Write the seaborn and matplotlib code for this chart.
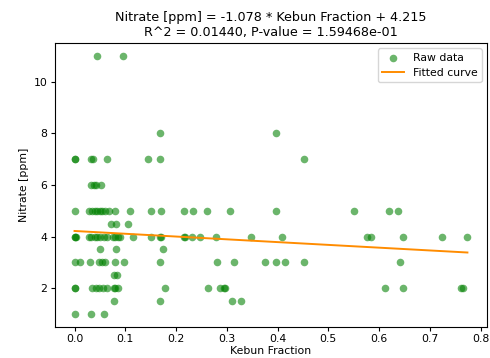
import numpy as np
import pandas as pd
import matplotlib
matplotlib.use("Agg")
import matplotlib.pyplot as plt
import seaborn as sns

# Kebun fraction values, grouped by the nitrate level they were measured at
x_11 = [0.045, 0.096]
x_8 = [0.168, 0.397]
x_7 = [0.0, 0.0, 0.033, 0.037, 0.063, 0.145, 0.169, 0.452]
x_6 = [0.033, 0.038, 0.042, 0.052]
x_5 = [0.0, 0.028, 0.035, 0.040, 0.045, 0.050, 0.055, 0.060, 0.068, 0.080,
       0.11, 0.15, 0.17, 0.215, 0.233, 0.261, 0.307, 0.396, 0.55, 0.619, 0.637]
x_4_5 = [0.071, 0.081, 0.106]
x_4 = [0.0, 0.0, 0.003, 0.028, 0.032, 0.040, 0.045, 0.050, 0.058, 0.063,
       0.075, 0.080, 0.085, 0.090, 0.115, 0.15, 0.168, 0.17, 0.215, 0.218,
       0.232, 0.247, 0.279, 0.348, 0.409, 0.576, 0.584, 0.648, 0.723, 0.774]
x_3_5 = [0.051, 0.081, 0.175]
x_3 = [0.0, 0.01, 0.03, 0.048, 0.055, 0.06, 0.08, 0.098, 0.168, 0.281,
       0.314, 0.375, 0.397, 0.415, 0.452, 0.642]
x_2_5 = [0.077, 0.084]
x_2 = [0.0, 0.0, 0.035, 0.043, 0.048, 0.057, 0.063, 0.077, 0.08, 0.085,
       0.178, 0.262, 0.287, 0.295, 0.297, 0.611, 0.648, 0.762, 0.765]
x_1_5 = [0.078, 0.168, 0.31, 0.328]
x_1 = [0.0, 0.032, 0.059]

groups = {11: x_11, 8: x_8, 7: x_7, 6: x_6, 5: x_5, 4.5: x_4_5, 4: x_4,
          3.5: x_3_5, 3: x_3, 2.5: x_2_5, 2: x_2, 1.5: x_1_5, 1: x_1}

# fit results as printed in the title
slope = -1.078
intercept = 4.215
r_squared = 0.01440
p_value = 1.59468e-01

rows = [(x, y) for y, xs in groups.items() for x in xs]
df = pd.DataFrame(rows, columns=["Kebun Fraction", "Nitrate [ppm]"])

x_fit = np.array([df["Kebun Fraction"].min(), df["Kebun Fraction"].max()])
fit = pd.DataFrame({"x": x_fit, "y": slope * x_fit + intercept})

plt.rcParams["font.size"] = 7.8
fig = plt.figure(figsize=(4.9, 3.58), dpi=100)
ax = fig.add_axes([0.112, 0.087, 0.882, 0.793])

sns.scatterplot(data=df, x="Kebun Fraction", y="Nitrate [ppm]", color="green",
                alpha=0.58, s=30, linewidth=0, label="Raw data", ax=ax)
sns.lineplot(data=fit, x="x", y="y", color="darkorange", linewidth=1.4,
             label="Fitted curve", ax=ax)

ax.set_xlabel("Kebun Fraction", fontsize=7.8, labelpad=1)
ax.set_ylabel("Nitrate [ppm]", fontsize=7.8, labelpad=3)
ax.set_title(f"Nitrate [ppm] = {slope:.3f} * Kebun Fraction + {intercept:.3f}\n"
             f"R^2 = {r_squared:.5f}, P-value = {p_value:.5e}", fontsize=9.2,
             pad=5)
ax.tick_params(labelsize=7.8, pad=2.5, length=3)
ax.legend(loc="upper right", fontsize=7.8)

fig.savefig("out.png", dpi=100)
